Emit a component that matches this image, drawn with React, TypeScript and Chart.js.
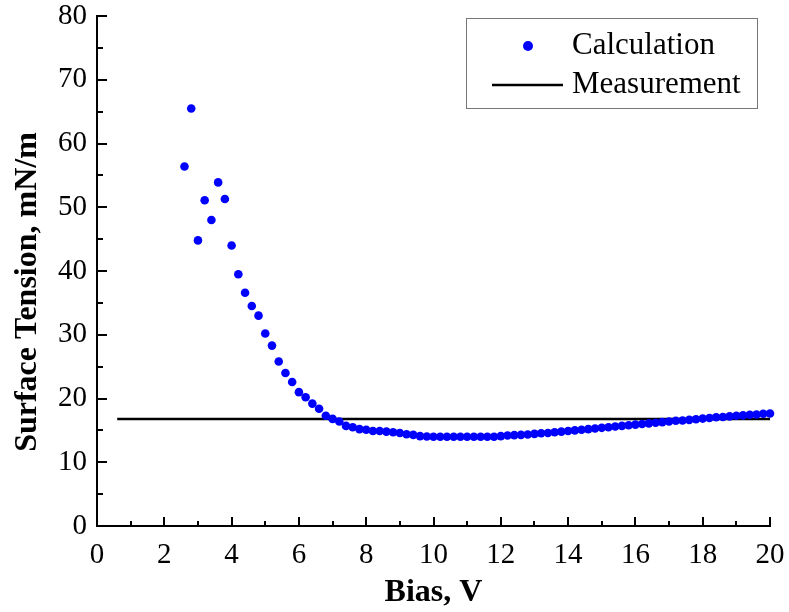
import React, { useEffect, useRef } from "react";
import { Chart, registerables } from "chart.js";

Chart.register(...registerables);

const biasV = [
  2.6, 2.8, 3.0, 3.2, 3.4, 3.6, 3.8, 4.0, 4.2, 4.4, 4.6, 4.8, 5.0, 5.2, 5.4, 5.6, 5.8, 6.0,
  6.2, 6.4, 6.6, 6.8, 7.0, 7.2, 7.4, 7.6, 7.8, 8.0, 8.2, 8.4, 8.6, 8.8, 9.0, 9.2, 9.4, 9.6,
  9.8, 10.0, 10.2, 10.4, 10.6, 10.8, 11.0, 11.2, 11.4, 11.6, 11.8, 12.0, 12.2, 12.4, 12.6,
  12.8, 13.0, 13.2, 13.4, 13.6, 13.8, 14.0, 14.2, 14.4, 14.6, 14.8, 15.0, 15.2, 15.4, 15.6,
  15.8, 16.0, 16.2, 16.4, 16.6, 16.8, 17.0, 17.2, 17.4, 17.6, 17.8, 18.0, 18.2, 18.4, 18.6,
  18.8, 19.0, 19.2, 19.4, 19.6, 19.8, 20.0,
];
const calculation = [
  56.4, 65.5, 44.8, 51.1, 48.0, 53.9, 51.3, 44.0, 39.5, 36.6, 34.5, 33.0, 30.2, 28.3, 25.8,
  24.0, 22.6, 21.0, 20.2, 19.2, 18.4, 17.3, 16.8, 16.4, 15.7, 15.5, 15.2, 15.1, 14.9, 14.9,
  14.8, 14.7, 14.6, 14.4, 14.3, 14.1, 14.05, 14.0, 14.0, 14.0, 14.0, 14.0, 14.0, 14.0, 14.0,
  14.0, 14.0, 14.1, 14.2, 14.25, 14.3, 14.35, 14.45, 14.55, 14.6, 14.7, 14.8, 14.9, 15.0,
  15.1, 15.2, 15.3, 15.4, 15.5, 15.6, 15.7, 15.8, 15.9, 16.0, 16.1, 16.2, 16.3, 16.4, 16.5,
  16.55, 16.65, 16.75, 16.85, 16.95, 17.05, 17.1, 17.2, 17.3, 17.35, 17.45, 17.5, 17.6, 17.65,
];
const measurementX = [0.6, 20];
const measurementY = [16.8, 16.8];

const xTitle = "Bias, V";
const yTitle = "Surface Tension, mN/m";
const seriesLabels = ["Calculation", "Measurement"];

const FONT = "'Liberation Serif', 'Times New Roman', serif";

const decorPlugin = {
  id: "decor",
  afterDraw(chart: any) {
    const ctx = chart.ctx;
    const xs = chart.scales.x;
    const ys = chart.scales.y;
    const area = chart.chartArea;
    ctx.save();
    ctx.strokeStyle = "#000";
    ctx.lineWidth = 2;
    // inward ticks on x
    for (let v = xs.min; v <= xs.max; v += 1) {
      const px = Math.round(xs.getPixelForValue(v));
      const len = v % 2 === 0 ? 9 : 5;
      ctx.beginPath();
      ctx.moveTo(px, area.bottom);
      ctx.lineTo(px, area.bottom - len);
      ctx.stroke();
    }
    // inward ticks on y
    for (let v = ys.min; v <= ys.max; v += 5) {
      const py = Math.round(ys.getPixelForValue(v));
      const len = v % 10 === 0 ? 10 : 6;
      ctx.beginPath();
      ctx.moveTo(area.left, py);
      ctx.lineTo(area.left + len, py);
      ctx.stroke();
    }
    // y title
    ctx.fillStyle = "#000";
    ctx.font = `bold 32px ${FONT}`;
    ctx.textAlign = "center";
    ctx.textBaseline = "middle";
    ctx.translate(28, 292);
    ctx.rotate(-Math.PI / 2);
    ctx.fillText(yTitle, 0, 0);
    ctx.restore();

    // legend
    ctx.save();
    const ds = chart.data.datasets;
    ctx.strokeStyle = "#777";
    ctx.lineWidth = 1;
    ctx.strokeRect(466.5, 18.5, 291, 90);
    ctx.fillStyle = ds[0].backgroundColor;
    ctx.beginPath();
    ctx.arc(528, 46, 5, 0, Math.PI * 2);
    ctx.fill();
    ctx.strokeStyle = ds[1].borderColor;
    ctx.lineWidth = 2.5;
    ctx.beginPath();
    ctx.moveTo(492, 85);
    ctx.lineTo(563, 85);
    ctx.stroke();
    ctx.fillStyle = "#000";
    ctx.font = `31px ${FONT}`;
    ctx.textAlign = "left";
    ctx.textBaseline = "middle";
    ctx.fillText(ds[0].label, 572, 46);
    ctx.fillText(ds[1].label, 572, 85);
    ctx.restore();
  },
};

export default function App() {
  const ref = useRef<HTMLCanvasElement | null>(null);
  useEffect(() => {
    const canvas = ref.current;
    if (!canvas) return;
    const chart = new Chart(canvas, {
      type: "scatter",
      data: {
        datasets: [
          {
            label: seriesLabels[0],
            data: biasV.map((x, i) => ({ x, y: calculation[i] })),
            backgroundColor: "#0000ff",
            borderColor: "#0000ff",
            pointRadius: 4.3,
            pointBorderWidth: 0,
            showLine: false,
            clip: false as any,
          },
          {
            label: seriesLabels[1],
            data: measurementX.map((x, i) => ({ x, y: measurementY[i] })),
            borderColor: "#000000",
            backgroundColor: "#000000",
            borderWidth: 2.5,
            pointRadius: 0,
            showLine: true,
          },
        ],
      },
      options: {
        responsive: false,
        animation: false,
        layout: { padding: { top: 16, right: 19, left: 0, bottom: 0 } },
        plugins: {
          legend: { display: false },
          tooltip: { enabled: false },
        },
        scales: {
          x: {
            type: "linear",
            min: 0,
            max: 20,
            afterFit(scale: any) {
              scale.height = 86;
              scale.paddingLeft = 0;
              scale.paddingRight = 0;
            },
            ticks: {
              stepSize: 2,
              color: "#000",
              padding: 12,
              maxRotation: 0,
              font: { family: FONT, size: 29 },
            },
            grid: { drawOnChartArea: false, drawTicks: false },
            border: { display: true, color: "#000", width: 2 },
            title: {
              display: true,
              text: xTitle,
              color: "#000",
              padding: 0,
              font: { family: FONT, size: 32, weight: "bold" },
            },
          },
          y: {
            type: "linear",
            min: 0,
            max: 80,
            afterFit(scale: any) {
              scale.width = 97;
              scale.paddingTop = 0;
              scale.paddingBottom = 0;
            },
            ticks: {
              stepSize: 10,
              color: "#000",
              padding: 10,
              font: { family: FONT, size: 29 },
            },
            grid: { drawOnChartArea: false, drawTicks: false },
            border: { display: true, color: "#000", width: 2 },
          },
        },
      },
      plugins: [decorPlugin],
    });
    return () => chart.destroy();
  }, []);
  return (
    <div style={{ position: "fixed", left: 0, top: 0, width: 789, height: 612, background: "#fff" }}>
      <canvas ref={ref} width={789} height={612} />
    </div>
  );
}
